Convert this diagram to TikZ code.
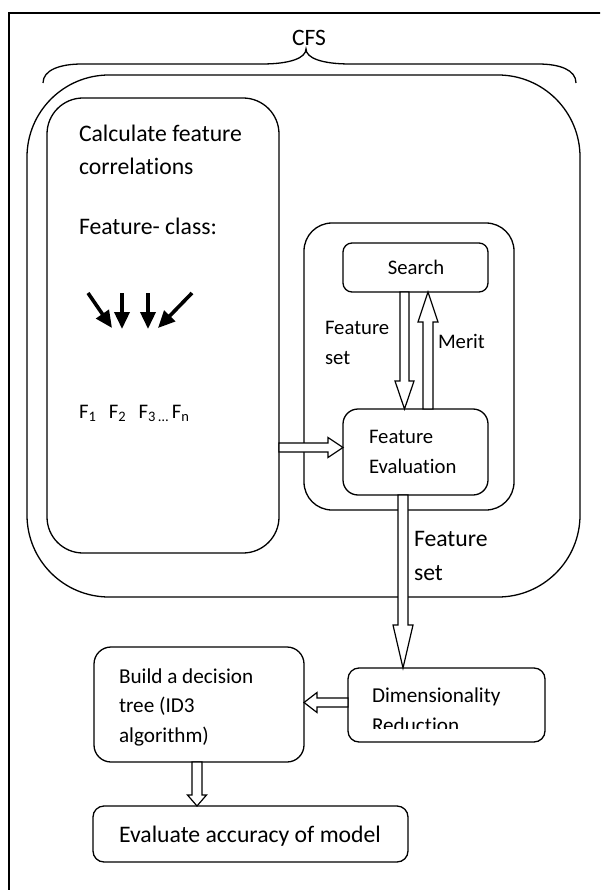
\documentclass[tikz,border=0pt]{standalone}
\usepackage{fontspec}
\setmainfont{Carlito}[Ligatures={NoCommon}]
\usetikzlibrary{calc,arrows.meta}
\tikzset{
  box/.style={draw, line width=1.3pt, inner sep=0pt, outer sep=0pt},
  txt/.style={inner sep=0pt, outer sep=0pt, anchor=base west},
  bigf/.style={font=\fontsize{23.7}{28}\selectfont},
  midf/.style={font=\fontsize{20.7}{25}\selectfont},
  smallf/.style={font=\fontsize{21.2}{25}\selectfont},
  blockarrow/.style n args={3}{draw, fill=white, line width=1.2pt, line join=miter, to path={
    let \p1=(\tikztostart), \p2=(\tikztotarget), \p3=($(\p2)!#3!(\p1)$) in
    ($(\p1)!#1!90:(\p2)$) -- ($(\p3)!#1!90:(\p2)$) -- ($(\p3)!#2!90:(\p2)$) -- (\p2)
    -- ($(\p3)!#2!-90:(\p2)$) -- ($(\p3)!#1!-90:(\p2)$) -- ($(\p1)!#1!-90:(\p2)$) -- cycle}},
  blackarrow/.style={line width=3.6pt, -{Triangle[length=17pt,width=15pt]}}
}
\begin{document}
\begin{tikzpicture}[x=1pt,y=-1pt]
\useasboundingbox (0,0) rectangle (600,890);
\clip (0,0) rectangle (600,890);
% outer frame
\draw[line width=2pt] (9,900) -- (9,12.7) -- (610,12.7);
% brace
\draw[line width=1.3pt] (43,83) .. controls (43,70) and (60,64) .. (82,64) -- (262,64)
  .. controls (290,64) and (306,58) .. (306,49)
  .. controls (306,58) and (322,64) .. (350,64) -- (538,64)
  .. controls (560,64) and (576,70) .. (576,83);
\node[inner sep=0pt, font=\fontsize{23.5}{28}\selectfont] (cfslabel) at (309,38) {CFS};
% boxes
\node[box, minimum width=553pt, minimum height=522pt, rounded corners=82pt] (cfs) at (303.5,336) {};
\node[box, minimum width=232pt, minimum height=455pt, rounded corners=36pt] (corr) at (163,325.5) {};
\node[box, minimum width=210pt, minimum height=287pt, rounded corners=28pt] (grp) at (409,366.5) {};
\node[box, minimum width=145pt, minimum height=49pt, rounded corners=9pt] (search) at (415.5,267.5) {};
\node[box, minimum width=145pt, minimum height=86pt, rounded corners=15pt] (fe) at (415.5,452) {};
\node[box, minimum width=197pt, minimum height=74pt, rounded corners=11pt] (dr) at (446.5,705) {};
\node[box, minimum width=210pt, minimum height=115pt, rounded corners=17pt] (build) at (199,704.5) {};
\node[box, minimum width=315pt, minimum height=56pt, rounded corners=11pt] (eval) at (250.5,834) {};
% texts
\node[txt,bigf] (t1) at (79,141.7) {Calculate feature};
\node[txt,bigf] (t2) at (79,175) {correlations};
\node[txt,bigf] (t3) at (79,235) {Feature- class:};
\node[txt,midf] (flist) at (79,418) {F\textsubscript{1}\hspace{12.4pt}F\textsubscript{2}\hspace{12.4pt}F\textsubscript{3\hspace{3pt}…}\hspace{3pt}F\textsubscript{n}};
\node[midf, inner sep=0pt, anchor=base] (searcht) at (416,275) {Search};
\node[txt,midf] (fs1) at (325,334) {Feature};
\node[txt,midf] (fs2) at (325,364) {set};
\node[txt,midf] (merit) at (438,348) {Merit};
\node[txt,midf] (fe1) at (369,443) {Feature};
\node[txt,midf] (fe2) at (369,473) {Evaluation};
\node[txt,bigf] (fs3) at (414,546) {Feature};
\node[txt,bigf] (fs4) at (414,580) {set};
\node[txt,smallf] (dr1) at (372,702) {Dimensionality};
\begin{scope}
  \clip (0,0) rectangle (600,728);
  \node[txt,smallf] (dr2) at (372,732) {Reduction};
\end{scope}
\node[txt,smallf] (b1) at (119,683) {Build a decision};
\node[txt,smallf] (b2) at (119,712) {tree (ID3};
\node[txt,smallf] (b3) at (119,742) {algorithm)};
\node[bigf, inner sep=0pt, anchor=base] (evalt) at (250,842) {Evaluate accuracy of model};
% block arrows
\coordinate (sfs) at ([xshift=-11pt]search.south);
\draw[blockarrow={4.5pt}{9.5pt}{28pt}] (sfs) to (sfs |- fe.north);
\coordinate (mfe) at ([xshift=12.5pt]fe.north);
\draw[blockarrow={5pt}{10pt}{30pt}] (mfe) to (mfe |- search.south);
\coordinate (ly) at (0,447.5);
\draw[blockarrow={4.5pt}{10pt}{15pt}] (corr.east |- ly) to (fe.west |- ly);
\coordinate (fsd) at ([xshift=-12.5pt]fe.south);
\draw[blockarrow={5pt}{10pt}{43pt}] (fsd) to (fsd |- dr.north);
\coordinate (dy) at (0,702.5);
\draw[blockarrow={4.5pt}{10pt}{13pt}] (dr.west |- dy) to (build.east |- dy);
\coordinate (bx) at (197,0);
\draw[blockarrow={5pt}{9.5pt}{11pt}] (build.south -| bx) to (eval.north -| bx);
% black arrows
\coordinate (k1s) at (88,293);  \coordinate (k1e) at (112,328);
\coordinate (k2s) at (122,293); \coordinate (k2e) at (122,329);
\coordinate (k3s) at (148,293); \coordinate (k3e) at (148,329);
\coordinate (k4s) at (192,293); \coordinate (k4e) at (158,328);
\draw[blackarrow] (k1s) -- (k1e);
\draw[blackarrow] (k2s) -- (k2e);
\draw[blackarrow] (k3s) -- (k3e);
\draw[blackarrow] (k4s) -- (k4e);
\end{tikzpicture}
\end{document}
